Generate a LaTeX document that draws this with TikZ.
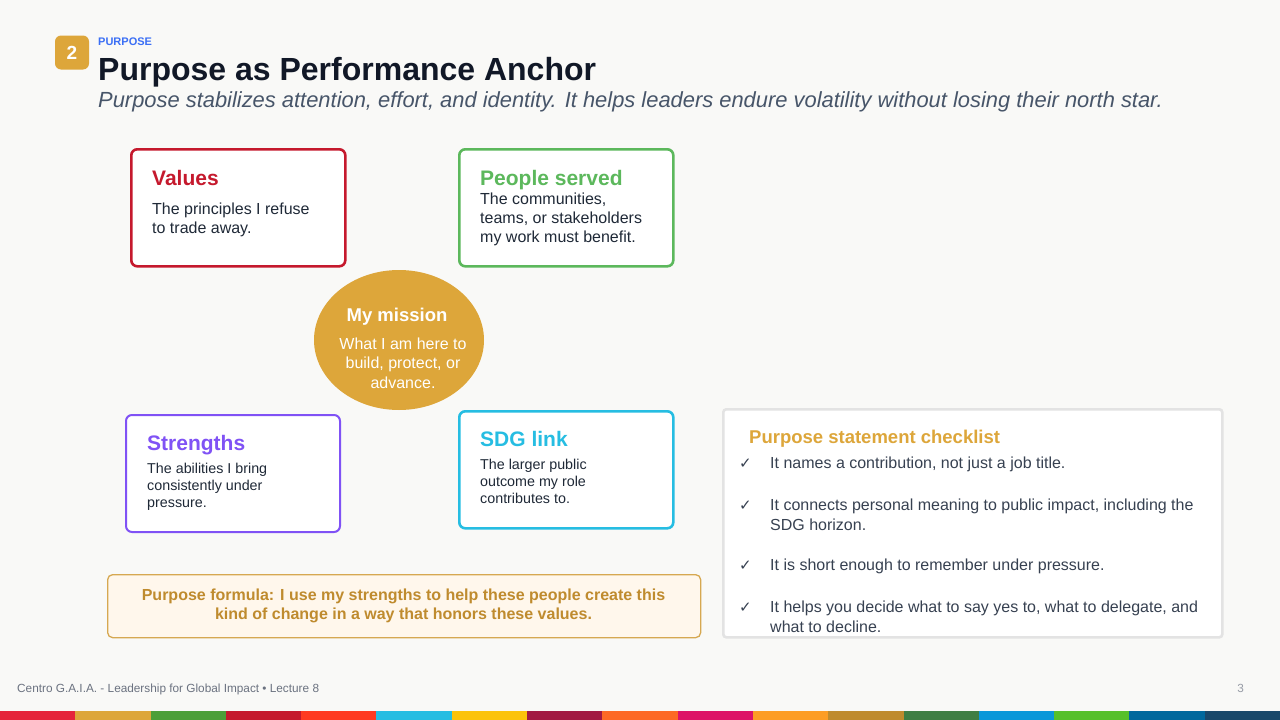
\documentclass[tikz,border=0pt]{standalone}
\usepackage{fontspec}
\setmainfont{Liberation Sans}
\newfontfamily\tickfont{DejaVu Sans}
\usetikzlibrary{positioning,shapes.geometric}
\definecolor{pagebg}{HTML}{F9F9F7}
\definecolor{inkdark}{HTML}{111827}
\definecolor{inkslate}{HTML}{475569}
\definecolor{inkbody}{HTML}{1F2937}
\definecolor{inklist}{HTML}{374151}
\definecolor{tagblue}{HTML}{3B6FF5}
\definecolor{goldm}{HTML}{DDA63A}
\definecolor{valred}{HTML}{C5192D}
\definecolor{pplgreen}{HTML}{5CB85C}
\definecolor{strpurple}{HTML}{8052F5}
\definecolor{sdgcyan}{HTML}{26BDE2}
\definecolor{formtext}{HTML}{BF8B2E}
\definecolor{formfill}{HTML}{FFF7EC}
\definecolor{formedge}{HTML}{D6A851}
\definecolor{listedge}{HTML}{E3E3E3}
\definecolor{footgray}{HTML}{6B7280}

\begin{document}
\begin{tikzpicture}[x=1pt,y=-1pt,
    card/.style={draw=#1,line width=2.6pt,rounded corners=6pt,fill=white,
      minimum width=214pt,minimum height=117pt,anchor=north west,inner sep=0pt},
    cardtitle/.style={font=\fontsize{21}{25}\selectfont\bfseries,anchor=base west,inner sep=0pt},
    cardbody/.style={font=\fontsize{16}{19}\selectfont,text=inkbody,align=left,
      anchor=base west,inner sep=0pt},
    smallbody/.style={cardbody,font=\fontsize{14.3}{17}\selectfont},
    listitem/.style={font=\fontsize{16}{20}\selectfont,text=inklist,align=left,
      anchor=base west,inner sep=0pt},
    tick/.style={font=\tickfont\fontsize{15}{16}\selectfont,text=inklist,
      anchor=base west,inner sep=0pt}]
  \useasboundingbox (0,0) rectangle (1280,720);
  \fill[pagebg] (0,0) rectangle (1280,720);

  % header
  \node[fill=goldm,rounded corners=6pt,minimum width=34pt,minimum height=34pt,
        inner sep=0pt,text=white,font=\fontsize{19}{19}\selectfont\bfseries]
        (badge) at (72,52.5) {2};
  \node[anchor=base west,inner sep=0pt,text=tagblue,font=\fontsize{11}{13}\selectfont\bfseries]
        (tag) at (98,45.8) {PURPOSE};
  \node[anchor=base west,inner sep=0pt,text=inkdark,font=\fontsize{32}{36}\selectfont\bfseries]
        (title) at (98,80) {Purpose as Performance Anchor};
  \node[anchor=base west,inner sep=0pt,text=inkslate,font=\fontsize{21.9}{25}\selectfont\itshape]
        (subtitle) at (98,107) {Purpose stabilizes attention, effort, and identity. It helps leaders endure volatility without losing their north star.};

  % four cards round the mission (multi-line text: base is the last line)
  \node[card=valred] (values) at (130,148) {};
  \node[cardtitle,text=valred] (valuesT) at (152,185) {Values};
  \node[cardbody] (valuesB) at (152,233.5) {The principles I refuse\\to trade away.};

  \node[card=pplgreen] (people) at (458,148) {};
  \node[cardtitle,text=pplgreen] (peopleT) at (480,185) {People served};
  \node[cardbody] (peopleB) at (480,242.5) {The communities,\\teams, or stakeholders\\my work must benefit.};

  \node[card=strpurple,line width=2pt] (strengths) at (125,414) {};
  \node[cardtitle,text=strpurple] (strengthsT) at (147,450) {Strengths};
  \node[smallbody] (strengthsB) at (147,507) {The abilities I bring\\consistently under\\pressure.};

  \node[card=sdgcyan] (sdg) at (458,410) {};
  \node[cardtitle,text=sdgcyan] (sdgT) at (480,446) {SDG link};
  \node[smallbody] (sdgB) at (480,503) {The larger public\\outcome my role\\contributes to.};

  % mission in the middle
  \node[ellipse,fill=goldm,minimum width=170pt,minimum height=140pt,inner sep=0pt]
        (mission) at (399,340) {};
  \node[anchor=base,inner sep=0pt,text=white,font=\fontsize{18.5}{22}\selectfont\bfseries]
        (missionT) at (397,321.7) {My mission};
  \node[anchor=base,inner sep=0pt,text=white,align=center,font=\fontsize{16}{19.5}\selectfont]
        (missionB) at (403,388) {What I am here to\\build, protect, or\\advance.};

  % formula
  \node[draw=formedge,line width=1.3pt,fill=formfill,rounded corners=5pt,anchor=north west,
        minimum width=593pt,minimum height=63pt,inner sep=0pt] (formula) at (107,574) {};
  \node[anchor=base,inner sep=0pt,text=formtext,align=center,font=\fontsize{16}{19}\selectfont\bfseries]
        (formulaT) at (403.5,619.5) {Purpose formula: I use my strengths to help these people create this\\kind of change in a way that honors these values.};

  % checklist
  \node[draw=listedge,line width=2.6pt,fill=white,rounded corners=3pt,anchor=north west,
        minimum width=499pt,minimum height=228pt,inner sep=0pt] (check) at (722,408) {};
  \node[anchor=base west,inner sep=0pt,text=goldm,font=\fontsize{18.5}{22}\selectfont\bfseries]
        (checkT) at (749,443) {Purpose statement checklist};
  \node[tick] (tick1) at (739,468.5) {✓};
  \node[listitem] (item1) at (770,468.5) {It names a contribution, not just a job title.};
  \node[tick] (tick2) at (739,510) {✓};
  \node[listitem] (item2) at (770,530) {It connects personal meaning to public impact, including the\\SDG horizon.};
  \node[tick] (tick3) at (739,570.5) {✓};
  \node[listitem] (item3) at (770,570.5) {It is short enough to remember under pressure.};
  \node[tick] (tick4) at (739,612.5) {✓};
  \node[listitem] (item4) at (770,632.5) {It helps you decide what to say yes to, what to delegate, and\\what to decline.};

  % footer
  \node[anchor=base west,inner sep=0pt,text=footgray,font=\fontsize{11.8}{14}\selectfont]
        (foot) at (17,692) {Centro G.A.I.A. - Leadership for Global Impact • Lecture 8};
  \node[anchor=base east,inner sep=0pt,text=footgray!70,font=\fontsize{11.8}{14}\selectfont]
        (pageno) at (1244,692) {3};
  \foreach \c [count=\i from 0] in {E5243B,DDA63A,4C9F38,C5192D,FF3A21,26BDE2,FCC30B,A21942,
      FD6925,DD1367,FD9D24,BF8B2E,3F7E44,0A97D9,56C02B,00689D,19486A}{
    \definecolor{sdgbar}{HTML}{\c}
    \fill[sdgbar] (\i*75.2941,711) rectangle ++(75.2941,9);
  }
\end{tikzpicture}
\end{document}
